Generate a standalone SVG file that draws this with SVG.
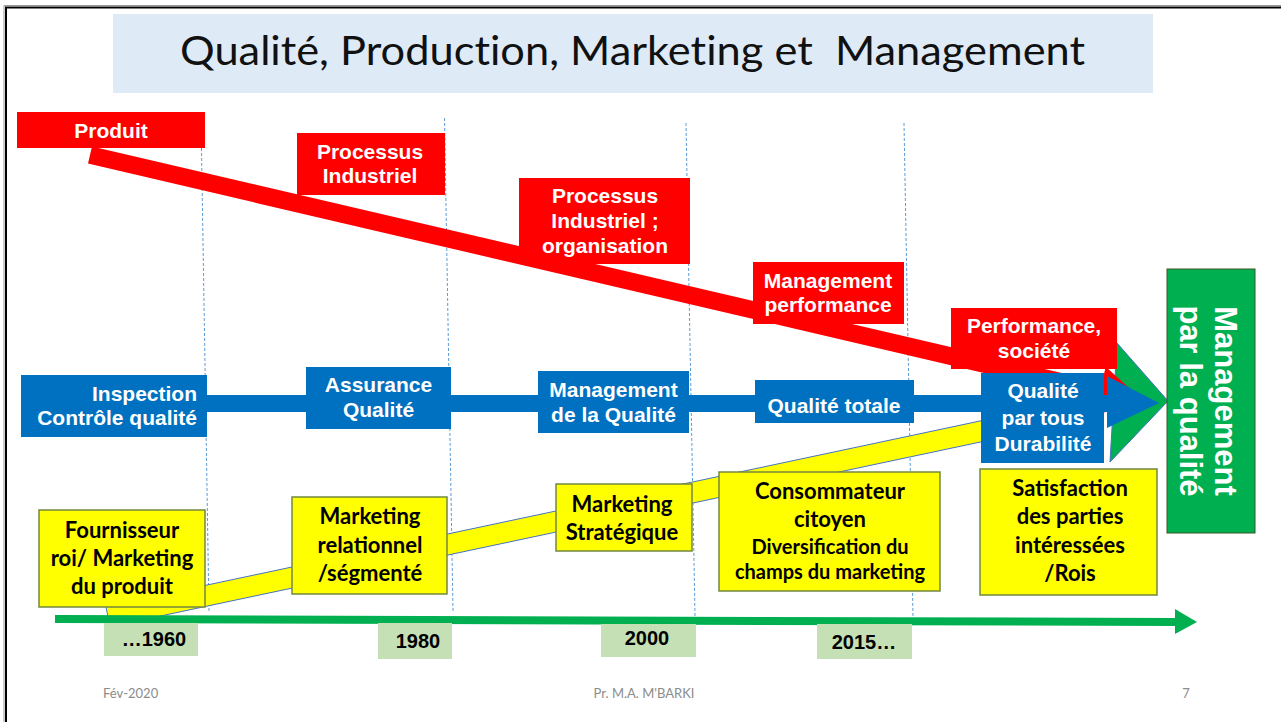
<svg xmlns="http://www.w3.org/2000/svg" width="1281" height="722" viewBox="0 0 1281 722">
<style>
.wt{font-family:"Liberation Sans",Arial,sans-serif;font-weight:bold;font-size:21px;fill:#fff;text-anchor:middle}
.yt{font-family:Lato,"Liberation Sans",sans-serif;font-weight:bold;font-size:22px;fill:#000;text-anchor:middle}
.ys{font-size:20px}
.yr{font-family:"Liberation Sans",Arial,sans-serif;font-weight:bold;font-size:20px;fill:#000;text-anchor:middle}
.ft{font-family:Lato,"Liberation Sans",sans-serif;font-size:13px;fill:#8c8c8c}
.red{fill:#ff0000}
.blue{fill:#0070c0}
.yel{fill:#ffff00;stroke:#71893f;stroke-width:1.5}
.yrb{fill:#c5e0b4}
.dash{stroke:#5b9bd5;stroke-width:1;stroke-dasharray:3 2;fill:none}
</style>
<rect width="1281" height="722" fill="#fff"/>
<path d="M6,722 V7.5 H1281" fill="none" stroke="#000" stroke-width="2"/>
<path d="M4,722 V5.5 H1281" fill="none" stroke="#999" stroke-width="1"/>
<g id="title">
<rect x="113" y="14" width="1040" height="79" fill="#deebf7"/>
<text x="632.5" y="65" font-family="Lato,'Liberation Sans',sans-serif" font-weight="400" font-size="40" text-anchor="middle" fill="#111" xml:space="preserve" style="white-space:pre;font-variant-ligatures:none" textLength="905" lengthAdjust="spacingAndGlyphs">Qualité, Production, Marketing et  Management</text>
</g>
<g id="gridlines">
<line class="dash" x1="201" y1="118" x2="209" y2="612"/>
<line class="dash" x1="444.5" y1="118" x2="453" y2="612"/>
<line class="dash" x1="686" y1="123" x2="695" y2="616"/>
<line class="dash" x1="904" y1="123" x2="913" y2="618"/>
</g>
<g id="connectors">
<polygon points="105.9,606.5 1047.9,406.6 1052.1,426.8 110.1,626.7" fill="#ffff00" stroke="#4472c4" stroke-width="1"/>
<polygon points="1117,343 1168,401 1110,462" fill="#00b050" stroke="#4472c4" stroke-width="1"/>
<polygon class="red" points="92,146.4 1102,382.4 1105.7,366.7 1143.8,401.3 1094.3,415.3 1098,399.6 88,163.6"/>
<polygon class="blue" points="200,395 1107,395 1107,376 1159,403 1107,428 1107,412 200,412"/>
<path d="M55,619 L1178,622" stroke="#00b050" stroke-width="8"/>
<polygon points="1175,609 1197,622 1175,634" fill="#00b050"/>
</g>
<g id="produit"><rect class="red" x="17" y="112" width="188" height="36"/><text class="wt" x="111" y="138">Produit</text></g>
<g id="processus"><rect class="red" x="297" y="133" width="148" height="62"/><text class="wt" x="370" y="159">Processus</text><text class="wt" x="370" y="183">Industriel</text></g>
<g id="processus-org"><rect class="red" x="519" y="178" width="171" height="86"/><text class="wt" x="605" y="203">Processus</text><text class="wt" x="605" y="228">Industriel ;</text><text class="wt" x="605" y="253">organisation</text></g>
<g id="mgmt-perf"><rect class="red" x="753" y="262" width="151" height="62"/><text class="wt" x="828" y="288">Management</text><text class="wt" x="828" y="312">performance</text></g>
<g id="perf-societe"><rect class="red" x="951" y="308" width="166" height="61"/><text class="wt" x="1034" y="333">Performance,</text><text class="wt" x="1034" y="358">société</text></g>
<g id="inspection"><rect class="blue" x="21" y="375" width="186" height="62"/><text class="wt" x="197" y="401" style="text-anchor:end">Inspection</text><text class="wt" x="197" y="425" style="text-anchor:end">Contrôle qualité</text></g>
<g id="assurance"><rect class="blue" x="306" y="367" width="145" height="62"/><text class="wt" x="378.5" y="392">Assurance</text><text class="wt" x="378.5" y="417">Qualité</text></g>
<g id="mgmt-qualite"><rect class="blue" x="538" y="371" width="151" height="62"/><text class="wt" x="613.5" y="397">Management</text><text class="wt" x="613.5" y="422">de la Qualité</text></g>
<g id="qualite-totale"><rect class="blue" x="755" y="380" width="159" height="43"/><text class="wt" x="834" y="413">Qualité totale</text></g>
<g id="qualite-tous"><rect class="blue" x="981" y="373" width="123" height="90"/><text class="wt" x="1043" y="398">Qualité</text><text class="wt" x="1043" y="425">par tous</text><text class="wt" x="1043" y="451">Durabilité</text></g>
<g id="mgmt-par-qualite"><rect x="1167" y="269" width="88" height="264" fill="#00b050" stroke="#385723" stroke-width="1"/>
<g transform="translate(1211,401) rotate(90)" font-family="'Liberation Sans',Arial,sans-serif" font-weight="bold" font-size="31" fill="#fff" text-anchor="middle"><text x="0" y="-4">Management</text><text x="0" y="31">par la qualité</text></g></g>
<g id="fournisseur"><rect class="yel" x="39" y="510" width="166" height="97"/><text class="yt" x="122" y="538">Fournisseur</text><text class="yt" x="122" y="566">roi/ Marketing</text><text class="yt" x="122" y="594">du produit</text></g>
<g id="relationnel"><rect class="yel" x="292" y="497" width="155" height="97"/><text class="yt" x="370" y="524">Marketing</text><text class="yt" x="370" y="553">relationnel</text><text class="yt" x="370" y="581">/ségmenté</text></g>
<g id="strategique"><rect class="yel" x="556" y="484" width="136" height="67"/><text class="yt" x="622" y="512">Marketing</text><text class="yt" x="622" y="540">Stratégique</text></g>
<g id="consommateur"><rect class="yel" x="719" y="472" width="221" height="119"/><text class="yt" x="830" y="499">Consommateur</text><text class="yt" x="830" y="527">citoyen</text><text class="yt ys" x="830" y="554">Diversification du</text><text class="yt ys" x="830" y="579">champs du marketing</text></g>
<g id="satisfaction"><rect class="yel" x="980" y="469" width="177" height="126"/><text class="yt" x="1070" y="496">Satisfaction</text><text class="yt" x="1070" y="524">des parties</text><text class="yt" x="1070" y="553">intéressées</text><text class="yt" x="1070" y="581">/Rois</text></g>
<g id="y1960"><rect class="yrb" x="104" y="623" width="94" height="33"/><text class="yr" x="154" y="646">…1960</text></g>
<g id="y1980"><rect class="yrb" x="378" y="623" width="74" height="36"/><text class="yr" x="418" y="648">1980</text></g>
<g id="y2000"><rect class="yrb" x="601" y="624" width="95" height="33"/><text class="yr" x="647" y="645">2000</text></g>
<g id="y2015"><rect class="yrb" x="817" y="624" width="95" height="35"/><text class="yr" x="864" y="649">2015…</text></g>
<g id="footer"><text class="ft" x="103" y="698">Fév-2020</text><text class="ft" x="644" y="698" text-anchor="middle">Pr. M.A. M'BARKI</text><text class="ft" x="1186" y="698" text-anchor="middle">7</text></g>
</svg>
